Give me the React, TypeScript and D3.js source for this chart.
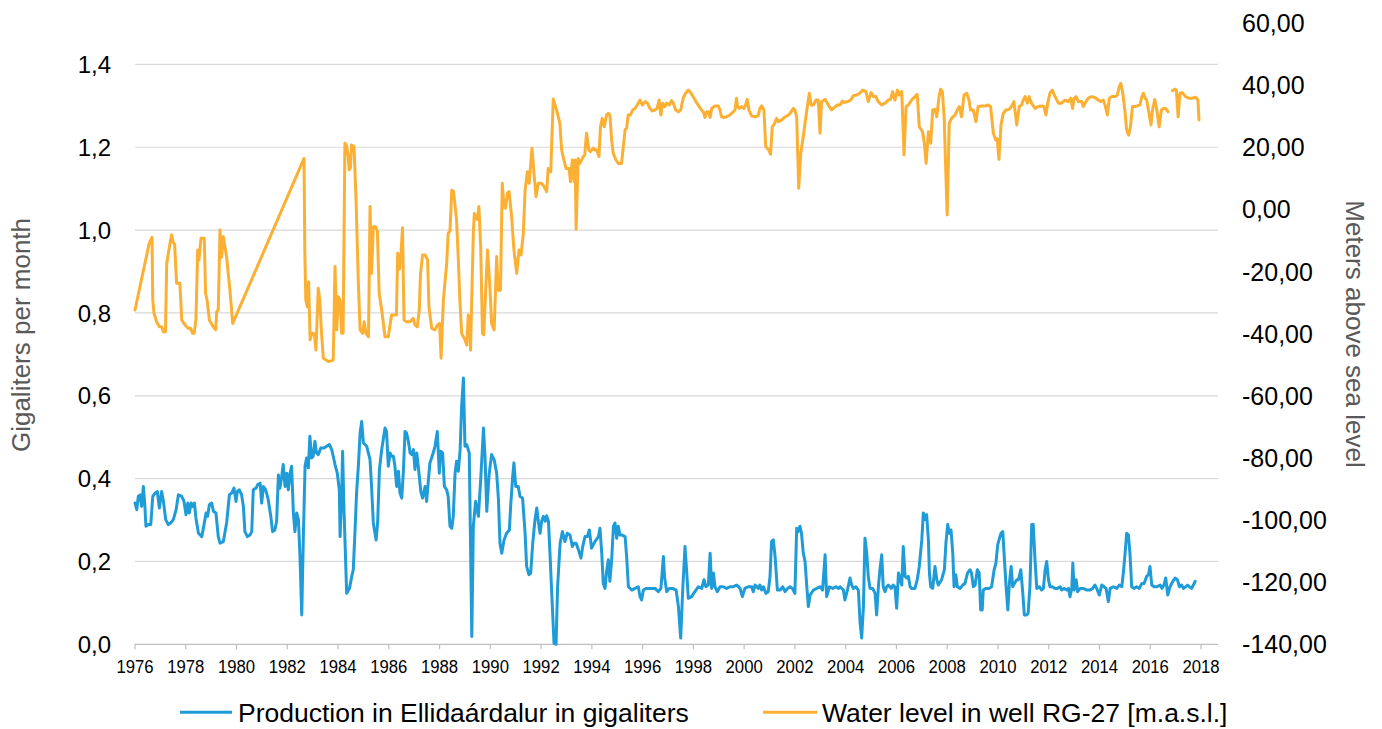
import React from 'react';
import { scaleLinear, line, curveLinear } from 'd3';

// monthly readings, [decimal year, value]
const production: [number, number][] = [
	[1976.00,0.341],[1976.07,0.325],[1976.13,0.357],[1976.20,0.361],[1976.26,0.333],[1976.33,0.381],[1976.39,0.333],[1976.43,0.285],[1976.52,0.289],[1976.62,0.289],[1976.70,0.357],[1976.79,0.365],[1976.88,0.369],[1976.96,0.329],[1977.05,0.369],[1977.12,0.345],[1977.21,0.301],[1977.31,0.289],[1977.41,0.293],[1977.51,0.301],[1977.62,0.325],[1977.71,0.361],[1977.84,0.357],[1977.93,0.345],[1978.01,0.313],[1978.08,0.341],[1978.14,0.317],[1978.21,0.341],[1978.27,0.333],[1978.34,0.341],[1978.40,0.305],[1978.50,0.268],[1978.63,0.260],[1978.72,0.289],[1978.80,0.317],[1978.86,0.309],[1978.93,0.337],[1979.02,0.341],[1979.09,0.321],[1979.19,0.317],[1979.28,0.260],[1979.35,0.244],[1979.48,0.248],[1979.61,0.293],[1979.72,0.361],[1979.81,0.365],[1979.90,0.377],[1979.98,0.345],[1980.03,0.369],[1980.11,0.373],[1980.20,0.361],[1980.27,0.333],[1980.33,0.272],[1980.43,0.260],[1980.53,0.264],[1980.60,0.272],[1980.66,0.373],[1980.77,0.377],[1980.83,0.385],[1980.93,0.389],[1980.99,0.341],[1981.06,0.381],[1981.15,0.373],[1981.25,0.349],[1981.35,0.309],[1981.42,0.272],[1981.51,0.276],[1981.58,0.297],[1981.65,0.409],[1981.71,0.377],[1981.78,0.405],[1981.84,0.434],[1981.91,0.381],[1981.98,0.413],[1982.04,0.373],[1982.11,0.413],[1982.17,0.430],[1982.24,0.317],[1982.30,0.272],[1982.37,0.317],[1982.44,0.301],[1982.50,0.212],[1982.57,0.071],[1982.63,0.252],[1982.70,0.430],[1982.76,0.450],[1982.83,0.426],[1982.89,0.502],[1982.96,0.450],[1983.02,0.454],[1983.09,0.490],[1983.15,0.462],[1983.22,0.458],[1983.32,0.474],[1983.45,0.474],[1983.55,0.478],[1983.66,0.482],[1983.75,0.470],[1983.81,0.454],[1983.88,0.434],[1983.97,0.413],[1984.05,0.373],[1984.08,0.260],[1984.14,0.357],[1984.18,0.466],[1984.23,0.333],[1984.34,0.123],[1984.45,0.135],[1984.54,0.164],[1984.60,0.180],[1984.67,0.276],[1984.73,0.365],[1984.80,0.430],[1984.87,0.510],[1984.93,0.538],[1985.00,0.486],[1985.13,0.478],[1985.26,0.446],[1985.32,0.381],[1985.39,0.293],[1985.50,0.252],[1985.56,0.293],[1985.63,0.422],[1985.72,0.470],[1985.78,0.494],[1985.85,0.522],[1985.91,0.514],[1985.98,0.430],[1986.05,0.462],[1986.11,0.454],[1986.18,0.454],[1986.24,0.430],[1986.31,0.381],[1986.38,0.418],[1986.44,0.365],[1986.51,0.353],[1986.57,0.413],[1986.64,0.514],[1986.70,0.510],[1986.77,0.490],[1986.84,0.462],[1986.90,0.458],[1986.97,0.470],[1987.03,0.422],[1987.10,0.462],[1987.16,0.430],[1987.26,0.369],[1987.33,0.353],[1987.43,0.381],[1987.49,0.345],[1987.56,0.397],[1987.62,0.438],[1987.73,0.458],[1987.82,0.478],[1987.91,0.514],[1987.99,0.413],[1988.04,0.466],[1988.12,0.462],[1988.19,0.381],[1988.28,0.373],[1988.34,0.357],[1988.41,0.285],[1988.48,0.280],[1988.54,0.309],[1988.61,0.413],[1988.67,0.442],[1988.74,0.418],[1988.81,0.470],[1988.87,0.575],[1988.94,0.643],[1989.00,0.478],[1989.07,0.482],[1989.17,0.462],[1989.27,0.019],[1989.33,0.285],[1989.42,0.345],[1989.53,0.309],[1989.62,0.397],[1989.73,0.522],[1989.79,0.454],[1989.86,0.321],[1989.95,0.409],[1990.05,0.458],[1990.15,0.446],[1990.25,0.413],[1990.32,0.349],[1990.38,0.244],[1990.45,0.220],[1990.54,0.252],[1990.64,0.268],[1990.75,0.276],[1990.80,0.333],[1990.88,0.405],[1990.93,0.438],[1991.00,0.381],[1991.10,0.381],[1991.17,0.357],[1991.27,0.353],[1991.37,0.268],[1991.43,0.188],[1991.52,0.168],[1991.59,0.172],[1991.67,0.244],[1991.76,0.301],[1991.83,0.329],[1991.89,0.297],[1991.96,0.268],[1992.02,0.297],[1992.09,0.309],[1992.16,0.297],[1992.22,0.310],[1992.29,0.297],[1992.35,0.220],[1992.42,0.123],[1992.51,0.002],[1992.59,0.000],[1992.65,0.139],[1992.75,0.244],[1992.84,0.272],[1992.94,0.248],[1993.03,0.268],[1993.14,0.264],[1993.23,0.236],[1993.30,0.244],[1993.38,0.244],[1993.47,0.228],[1993.57,0.208],[1993.64,0.236],[1993.73,0.260],[1993.82,0.260],[1993.90,0.276],[1993.99,0.232],[1994.12,0.248],[1994.26,0.260],[1994.32,0.280],[1994.39,0.220],[1994.45,0.147],[1994.52,0.135],[1994.58,0.176],[1994.65,0.204],[1994.71,0.152],[1994.78,0.204],[1994.85,0.285],[1994.91,0.293],[1994.98,0.256],[1995.04,0.285],[1995.11,0.264],[1995.17,0.264],[1995.31,0.260],[1995.37,0.212],[1995.44,0.139],[1995.57,0.131],[1995.70,0.135],[1995.83,0.139],[1995.90,0.115],[1995.96,0.107],[1996.03,0.131],[1996.13,0.135],[1996.23,0.135],[1996.36,0.135],[1996.49,0.135],[1996.62,0.127],[1996.72,0.135],[1996.82,0.212],[1996.86,0.164],[1996.95,0.127],[1997.05,0.135],[1997.18,0.135],[1997.32,0.131],[1997.41,0.091],[1997.50,0.015],[1997.58,0.131],[1997.67,0.236],[1997.74,0.172],[1997.80,0.111],[1997.93,0.115],[1998.06,0.127],[1998.20,0.139],[1998.33,0.135],[1998.42,0.156],[1998.49,0.139],[1998.59,0.143],[1998.66,0.220],[1998.72,0.135],[1998.79,0.172],[1998.85,0.139],[1998.94,0.127],[1999.05,0.139],[1999.18,0.139],[1999.31,0.135],[1999.44,0.139],[1999.57,0.139],[1999.71,0.143],[1999.84,0.135],[1999.93,0.115],[2000.03,0.135],[2000.16,0.139],[2000.30,0.139],[2000.36,0.127],[2000.43,0.143],[2000.56,0.135],[2000.62,0.143],[2000.69,0.131],[2000.76,0.139],[2000.86,0.123],[2000.95,0.127],[2001.02,0.164],[2001.08,0.248],[2001.15,0.252],[2001.22,0.212],[2001.31,0.131],[2001.42,0.131],[2001.52,0.139],[2001.61,0.127],[2001.71,0.135],[2001.81,0.139],[2001.90,0.135],[2002.00,0.123],[2002.07,0.280],[2002.13,0.272],[2002.20,0.285],[2002.26,0.268],[2002.33,0.220],[2002.40,0.200],[2002.46,0.147],[2002.53,0.091],[2002.60,0.119],[2002.73,0.131],[2002.86,0.135],[2002.99,0.139],[2003.09,0.131],[2003.19,0.216],[2003.25,0.115],[2003.36,0.139],[2003.49,0.135],[2003.62,0.139],[2003.72,0.135],[2003.78,0.139],[2003.91,0.131],[2003.97,0.107],[2004.07,0.131],[2004.17,0.160],[2004.24,0.143],[2004.30,0.135],[2004.40,0.139],[2004.50,0.131],[2004.57,0.051],[2004.63,0.015],[2004.70,0.091],[2004.76,0.256],[2004.83,0.220],[2004.89,0.164],[2004.96,0.135],[2005.06,0.135],[2005.16,0.123],[2005.22,0.071],[2005.29,0.139],[2005.35,0.180],[2005.42,0.216],[2005.48,0.139],[2005.55,0.127],[2005.61,0.139],[2005.68,0.143],[2005.80,0.135],[2005.87,0.143],[2005.94,0.139],[2006.01,0.087],[2006.08,0.172],[2006.14,0.160],[2006.21,0.143],[2006.27,0.236],[2006.34,0.164],[2006.41,0.160],[2006.47,0.164],[2006.54,0.139],[2006.60,0.135],[2006.73,0.135],[2006.82,0.156],[2006.90,0.188],[2007.00,0.252],[2007.06,0.317],[2007.13,0.301],[2007.19,0.313],[2007.26,0.252],[2007.30,0.172],[2007.35,0.139],[2007.43,0.135],[2007.52,0.188],[2007.59,0.156],[2007.65,0.143],[2007.78,0.156],[2007.89,0.180],[2007.95,0.244],[2008.02,0.289],[2008.09,0.268],[2008.15,0.276],[2008.22,0.220],[2008.27,0.139],[2008.34,0.168],[2008.40,0.139],[2008.51,0.135],[2008.61,0.143],[2008.70,0.147],[2008.80,0.172],[2008.90,0.180],[2008.96,0.172],[2009.03,0.139],[2009.10,0.143],[2009.19,0.180],[2009.26,0.172],[2009.32,0.083],[2009.38,0.083],[2009.42,0.131],[2009.53,0.135],[2009.66,0.135],[2009.75,0.139],[2009.85,0.180],[2009.92,0.196],[2009.99,0.240],[2010.06,0.256],[2010.12,0.268],[2010.19,0.272],[2010.24,0.220],[2010.32,0.139],[2010.39,0.083],[2010.45,0.147],[2010.52,0.188],[2010.58,0.139],[2010.65,0.147],[2010.74,0.156],[2010.81,0.156],[2010.90,0.180],[2010.98,0.123],[2011.04,0.071],[2011.13,0.071],[2011.19,0.075],[2011.26,0.139],[2011.33,0.289],[2011.39,0.289],[2011.46,0.204],[2011.53,0.135],[2011.63,0.139],[2011.72,0.131],[2011.79,0.135],[2011.86,0.180],[2011.92,0.200],[2011.99,0.156],[2012.05,0.139],[2012.15,0.139],[2012.25,0.135],[2012.34,0.135],[2012.45,0.139],[2012.51,0.131],[2012.60,0.135],[2012.71,0.131],[2012.78,0.135],[2012.84,0.115],[2012.91,0.135],[2012.95,0.196],[2013.00,0.131],[2013.08,0.156],[2013.14,0.127],[2013.24,0.135],[2013.37,0.135],[2013.50,0.131],[2013.63,0.131],[2013.73,0.135],[2013.82,0.143],[2013.89,0.135],[2013.99,0.119],[2014.09,0.143],[2014.18,0.139],[2014.26,0.135],[2014.35,0.103],[2014.42,0.135],[2014.55,0.139],[2014.68,0.135],[2014.78,0.143],[2014.88,0.139],[2014.94,0.172],[2015.01,0.220],[2015.07,0.268],[2015.14,0.264],[2015.20,0.220],[2015.27,0.139],[2015.36,0.135],[2015.46,0.139],[2015.57,0.135],[2015.67,0.147],[2015.76,0.147],[2015.86,0.164],[2015.93,0.168],[2015.99,0.188],[2016.06,0.143],[2016.15,0.139],[2016.26,0.139],[2016.39,0.143],[2016.46,0.135],[2016.54,0.143],[2016.61,0.160],[2016.69,0.119],[2016.78,0.139],[2016.89,0.152],[2016.98,0.160],[2017.07,0.156],[2017.15,0.139],[2017.24,0.143],[2017.31,0.135],[2017.40,0.139],[2017.47,0.143],[2017.54,0.139],[2017.63,0.135],[2017.70,0.143],[2017.77,0.152]
];

// null = no reading (gap in the line)
const waterLevel: [number, number | null][] = [
	[1976.00,-32.4],[1976.56,-10.9],[1976.67,-9.0],[1976.70,-29.2],[1976.75,-33.4],[1976.85,-36.2],[1976.96,-37.8],[1977.05,-37.8],[1977.12,-39.4],[1977.20,-39.4],[1977.25,-17.4],[1977.34,-12.8],[1977.44,-8.2],[1977.50,-10.6],[1977.56,-11.2],[1977.64,-23.8],[1977.77,-23.8],[1977.84,-35.6],[1977.97,-37.2],[1978.10,-38.3],[1978.19,-38.3],[1978.27,-39.9],[1978.33,-39.9],[1978.40,-35.6],[1978.47,-13.1],[1978.52,-16.3],[1978.60,-9.3],[1978.73,-9.3],[1978.78,-27.0],[1978.84,-29.2],[1978.93,-35.6],[1979.08,-37.8],[1979.18,-38.8],[1979.22,-32.9],[1979.28,-32.4],[1979.35,-6.6],[1979.41,-15.4],[1979.48,-8.8],[1979.61,-15.4],[1979.74,-26.0],[1979.85,-36.7],
	[1982.66,16.4],[1982.69,-13.1],[1982.73,-29.2],[1982.79,-31.3],[1982.84,-23.3],[1982.90,-42.0],[1982.96,-39.9],[1983.03,-39.9],[1983.08,-41.0],[1983.13,-45.3],[1983.22,-25.4],[1983.28,-29.2],[1983.35,-39.9],[1983.42,-47.9],[1983.62,-49.0],[1983.81,-48.5],[1983.88,-18.4],[1983.95,-38.8],[1984.01,-28.1],[1984.08,-29.2],[1984.14,-39.9],[1984.20,-39.9],[1984.27,21.3],[1984.33,20.7],[1984.40,17.0],[1984.44,12.7],[1984.49,13.6],[1984.53,20.7],[1984.63,20.2],[1984.71,3.0],[1984.80,-23.8],[1984.87,-38.8],[1984.97,-39.9],[1985.03,-36.2],[1985.10,-39.9],[1985.20,-41.0],[1985.26,0.9],[1985.32,-20.6],[1985.39,-5.6],[1985.48,-5.6],[1985.55,-7.0],[1985.62,-27.0],[1985.72,-32.4],[1985.85,-41.0],[1985.98,-41.0],[1986.11,-34.0],[1986.24,-34.0],[1986.30,-34.0],[1986.35,-14.1],[1986.42,-19.2],[1986.48,-14.1],[1986.54,-5.9],[1986.60,-35.6],[1986.70,-36.2],[1986.83,-36.2],[1986.96,-35.1],[1987.03,-37.2],[1987.12,-37.8],[1987.20,-32.4],[1987.25,-20.6],[1987.33,-14.7],[1987.43,-14.7],[1987.53,-16.3],[1987.58,-31.3],[1987.69,-38.3],[1987.82,-38.8],[1987.92,-37.2],[1988.00,-36.7],[1988.06,-47.9],[1988.15,-29.2],[1988.28,-17.4],[1988.34,-7.7],[1988.41,-7.0],[1988.48,6.2],[1988.55,5.7],[1988.67,-3.4],[1988.74,-16.3],[1988.80,-29.2],[1988.87,-39.9],[1989.00,-42.0],[1989.07,-43.7],[1989.13,-34.0],[1989.17,-34.5],[1989.22,-45.3],[1989.33,-7.7],[1989.37,-1.3],[1989.43,-2.7],[1989.49,-3.2],[1989.55,0.9],[1989.62,-12.0],[1989.69,-39.9],[1989.74,-40.4],[1989.80,-29.2],[1989.89,-13.1],[1989.99,-26.0],[1990.05,-36.7],[1990.15,-38.8],[1990.25,-15.2],[1990.31,-26.0],[1990.40,-26.0],[1990.47,8.4],[1990.54,0.9],[1990.60,0.4],[1990.67,5.2],[1990.74,5.7],[1990.84,-2.4],[1990.93,-13.1],[1991.04,-20.6],[1991.13,-13.1],[1991.21,-14.7],[1991.30,-7.7],[1991.37,6.2],[1991.46,12.1],[1991.53,8.4],[1991.64,19.7],[1991.72,11.6],[1991.80,4.1],[1991.89,8.4],[1992.02,8.4],[1992.12,7.3],[1992.22,5.7],[1992.28,13.2],[1992.38,12.1],[1992.48,35.5],[1992.61,32.0],[1992.74,27.7],[1992.81,19.1],[1992.90,15.9],[1992.98,13.2],[1993.10,13.2],[1993.16,8.9],[1993.23,15.9],[1993.30,8.9],[1993.34,15.9],[1993.38,-6.4],[1993.46,16.4],[1993.53,14.8],[1993.66,17.0],[1993.72,17.5],[1993.79,24.5],[1993.88,19.1],[1993.94,18.6],[1994.06,19.7],[1994.12,19.1],[1994.19,19.1],[1994.28,17.0],[1994.34,26.6],[1994.41,29.3],[1994.49,26.6],[1994.58,30.4],[1994.65,30.9],[1994.71,30.4],[1994.78,22.3],[1994.84,18.1],[1994.95,15.9],[1995.04,14.8],[1995.17,14.8],[1995.24,20.2],[1995.31,25.6],[1995.37,26.1],[1995.43,30.4],[1995.52,30.4],[1995.61,32.0],[1995.70,32.5],[1995.79,33.6],[1995.90,35.2],[1995.99,33.6],[1996.10,34.7],[1996.19,34.2],[1996.29,32.5],[1996.38,31.7],[1996.48,32.0],[1996.57,32.5],[1996.65,35.2],[1996.72,30.4],[1996.79,34.2],[1996.88,33.1],[1996.95,34.2],[1997.05,33.6],[1997.14,35.0],[1997.21,34.2],[1997.30,32.0],[1997.41,31.4],[1997.50,32.0],[1997.60,35.8],[1997.69,37.4],[1997.80,38.4],[1997.89,37.6],[1997.99,36.3],[1998.10,34.7],[1998.23,33.1],[1998.32,32.0],[1998.39,31.4],[1998.46,29.6],[1998.52,31.4],[1998.59,31.4],[1998.66,29.6],[1998.72,32.5],[1998.85,33.3],[1998.98,33.3],[1999.05,32.0],[1999.11,29.8],[1999.18,29.6],[1999.31,29.8],[1999.44,30.4],[1999.57,31.4],[1999.64,32.0],[1999.70,35.8],[1999.74,33.1],[1999.81,32.5],[1999.90,33.1],[1999.99,32.5],[2000.06,33.6],[2000.12,35.4],[2000.19,32.0],[2000.29,30.1],[2000.42,29.8],[2000.55,30.1],[2000.62,32.5],[2000.69,33.3],[2000.78,32.0],[2000.85,20.2],[2000.91,19.7],[2000.97,19.1],[2001.04,17.8],[2001.11,26.6],[2001.17,27.2],[2001.28,29.3],[2001.35,28.2],[2001.48,28.8],[2001.61,29.8],[2001.70,30.1],[2001.81,30.9],[2001.94,32.5],[2002.00,32.0],[2002.07,29.8],[2002.15,6.8],[2002.23,18.1],[2002.33,23.4],[2002.47,32.0],[2002.57,37.4],[2002.64,33.6],[2002.73,33.6],[2002.83,35.2],[2002.92,35.2],[2002.99,24.5],[2003.05,34.7],[2003.19,35.4],[2003.32,33.6],[2003.44,32.0],[2003.57,32.9],[2003.67,33.6],[2003.78,33.6],[2003.87,34.9],[2003.95,34.4],[2004.07,34.7],[2004.20,35.2],[2004.30,36.6],[2004.43,36.8],[2004.56,37.4],[2004.67,38.4],[2004.80,37.9],[2004.89,34.7],[2005.00,37.6],[2005.09,36.3],[2005.19,36.3],[2005.28,34.7],[2005.42,33.6],[2005.55,34.2],[2005.68,35.2],[2005.77,35.4],[2005.85,37.9],[2005.94,35.2],[2006.04,38.4],[2006.11,36.8],[2006.14,37.4],[2006.21,37.9],[2006.30,17.5],[2006.38,33.1],[2006.47,33.6],[2006.60,35.2],[2006.73,36.3],[2006.82,37.0],[2006.90,26.6],[2007.03,25.0],[2007.10,21.3],[2007.17,14.8],[2007.26,25.0],[2007.35,21.3],[2007.43,32.0],[2007.52,32.2],[2007.59,29.8],[2007.68,36.3],[2007.74,38.7],[2007.81,37.9],[2007.88,29.8],[2007.94,13.7],[2008.00,-1.8],[2008.08,27.7],[2008.17,29.3],[2008.31,30.4],[2008.40,32.0],[2008.48,33.1],[2008.57,29.8],[2008.66,36.8],[2008.77,37.4],[2008.86,35.2],[2008.92,32.0],[2009.03,32.0],[2009.13,28.2],[2009.22,33.1],[2009.35,33.3],[2009.49,33.3],[2009.62,33.6],[2009.71,33.1],[2009.82,24.5],[2009.91,22.3],[2009.97,22.8],[2010.04,16.1],[2010.12,27.2],[2010.21,30.9],[2010.31,32.0],[2010.44,32.2],[2010.53,33.1],[2010.63,34.7],[2010.74,27.2],[2010.84,33.1],[2010.93,33.6],[2011.00,35.2],[2011.07,36.3],[2011.16,34.2],[2011.23,36.3],[2011.32,34.2],[2011.46,32.5],[2011.59,33.1],[2011.72,33.3],[2011.81,33.1],[2011.89,30.4],[2011.96,34.2],[2012.05,37.4],[2012.14,38.4],[2012.25,36.3],[2012.38,34.2],[2012.51,34.2],[2012.64,35.2],[2012.77,34.7],[2012.87,35.8],[2012.94,32.5],[2013.00,35.8],[2013.08,36.3],[2013.17,34.7],[2013.30,34.7],[2013.36,33.1],[2013.47,34.7],[2013.56,35.8],[2013.69,36.3],[2013.82,36.0],[2013.95,35.2],[2014.04,34.7],[2014.15,35.2],[2014.22,33.6],[2014.31,30.4],[2014.39,35.8],[2014.48,36.3],[2014.61,36.3],[2014.70,36.8],[2014.78,39.5],[2014.84,40.6],[2014.92,37.4],[2015.00,32.0],[2015.07,25.6],[2015.15,23.9],[2015.22,26.6],[2015.30,33.1],[2015.39,33.1],[2015.48,33.3],[2015.59,33.6],[2015.67,36.3],[2015.73,37.4],[2015.80,35.8],[2015.86,35.2],[2015.93,32.0],[2016.03,27.2],[2016.09,32.0],[2016.18,35.4],[2016.26,32.0],[2016.35,26.6],[2016.44,32.0],[2016.52,32.5],[2016.61,32.5],[2016.70,31.4],[2016.78,null],[2016.87,38.2],[2016.96,38.7],[2017.03,38.4],[2017.10,29.8],[2017.17,37.4],[2017.26,37.6],[2017.39,36.3],[2017.52,35.8],[2017.66,35.8],[2017.79,36.1],[2017.88,35.2],[2017.92,28.8]
];

const yearTicks = [1976,1978,1980,1982,1984,1986,1988,1990,1992,1994,1996,1998,2000,2002,2004,2006,2008,2010,2012,2014,2016,2018];
const leftTicks = [0, 0.2, 0.4, 0.6, 0.8, 1.0, 1.2, 1.4];
const rightTicks = [-140, -120, -100, -80, -60, -40, -20, 0, 20, 40, 60];

const leftTitle = 'Gigaliters per month';
const rightTitle = 'Meters above sea level';
const productionLabel = 'Production in Ellidaárdalur in gigaliters';
const waterLabel = 'Water level in well RG-27 [m.a.s.l.]';

const BLUE = '#1f9bd7';
const ORANGE = '#fbb034';
const FONT = '"Liberation Sans", Arial, sans-serif';

const App = () => {
	const width = 1382;
	const height = 729;
	const plot = { left: 135, right: 1218, top: 23, bottom: 644.3 };

	const x = scaleLinear().domain([1976, 2018.67]).range([plot.left, plot.right]);
	const yLeft = scaleLinear().domain([0, 1.5]).range([plot.bottom, plot.top]);
	const yRight = scaleLinear().domain([-140, 60]).range([plot.bottom, plot.top]);

	const prodLine = line<[number, number]>()
		.x((d) => x(d[0]))
		.y((d) => yLeft(d[1]))
		.curve(curveLinear);

	const waterLine = line<[number, number | null]>()
		.defined((d) => d[1] !== null)
		.x((d) => x(d[0]))
		.y((d) => yRight(d[1] as number))
		.curve(curveLinear);

	const fmt1 = (v: number) => v.toFixed(1).replace('.', ',');
	const fmt2 = (v: number) => v.toFixed(2).replace('.', ',');

	return (
		<svg width={width} height={height} style={{ position: 'absolute', left: 0, top: 0, background: '#fff' }}
			fontFamily={FONT}>
			{/* gridlines */}
			{leftTicks.filter((t) => t > 0).map((t) => (
				<line key={'g' + t} x1={plot.left} x2={plot.right} y1={yLeft(t)} y2={yLeft(t)}
					stroke="#d9d9d9" strokeWidth={1.2} />
			))}

			{/* x axis */}
			<line x1={plot.left} x2={plot.right} y1={plot.bottom} y2={plot.bottom} stroke="#bfbfbf" strokeWidth={1.2} />
			{yearTicks.map((t) => (
				<g key={'x' + t}>
					<line x1={x(t)} x2={x(t)} y1={plot.bottom} y2={plot.bottom + 5} stroke="#bfbfbf" strokeWidth={1.2} />
					<text transform={`translate(${x(t)},673.3) scale(0.88,1)`} textAnchor="middle" fontSize={19} fill="#000">
						{t}
					</text>
				</g>
			))}

			{/* left axis labels */}
			{leftTicks.map((t) => (
				<text key={'l' + t} x={111} y={yLeft(t) + 8.6} textAnchor="end" fontSize={24} fill="#000">
					{fmt1(t)}
				</text>
			))}

			{/* right axis labels */}
			{rightTicks.map((t) => (
				<text key={'r' + t} x={1242} y={yRight(t) + 9} textAnchor="start" fontSize={25} fill="#000">
					{fmt2(t)}
				</text>
			))}

			{/* axis titles */}
			<text transform="translate(30,335) rotate(-90)" textAnchor="middle" fontSize={26} fill="#595959">
				{leftTitle}
			</text>
			<text transform="translate(1346,334) rotate(90)" textAnchor="middle" fontSize={26} fill="#595959">
				{rightTitle}
			</text>

			{/* series */}
			<path d={waterLine(waterLevel) || ''} fill="none" stroke={ORANGE} strokeWidth={3}
				strokeLinejoin="round" strokeLinecap="round" />
			<path d={prodLine(production) || ''} fill="none" stroke={BLUE} strokeWidth={3}
				strokeLinejoin="round" strokeLinecap="round" />

			{/* legend */}
			<line x1={180} x2={232} y1={712.3} y2={712.3} stroke={BLUE} strokeWidth={3} />
			<text x={238} y={721.7} fontSize={26.5} fill="#000">{productionLabel}</text>
			<line x1={763} x2={817} y1={712.3} y2={712.3} stroke={ORANGE} strokeWidth={3} />
			<text x={822} y={721.7} fontSize={26.5} fill="#000">{waterLabel}</text>
		</svg>
	);
};

export default App;
